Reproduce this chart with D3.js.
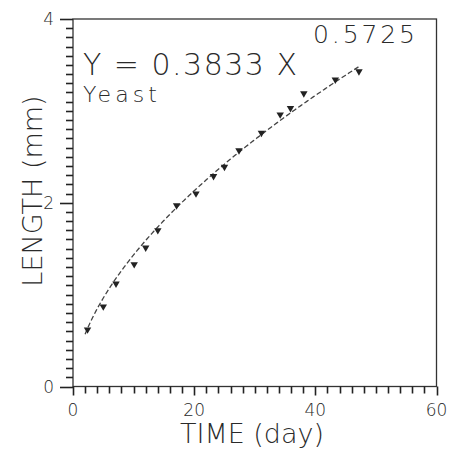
<!DOCTYPE html>
<html>
<head>
<meta charset="utf-8">
<script src="https://cdn.jsdelivr.net/npm/d3@7"></script>
<style>
  body { margin: 0; background: #fff; }
  svg text { font-family: "DejaVu Sans", sans-serif; font-weight: 200; fill: #2a2a2a; }
  line.tick { stroke: #222; stroke-width: 1.6px; }
</style>
</head>
<body>
<div id="chart"></div>
<script>
// measured points (days, mm)
var days = [2.4, 5.0, 7.1, 10.1, 12.0, 14.0, 17.1, 20.3, 23.2, 25.0, 27.4, 31.1, 34.2, 35.9, 38.1, 43.3, 47.2];
var lengths = [0.62, 0.87, 1.12, 1.33, 1.51, 1.70, 1.97, 2.10, 2.29, 2.39, 2.57, 2.76, 2.96, 3.03, 3.19, 3.34, 3.43];

// power fit printed on the chart: Y = a X^b
var fit_a = 0.3833;
var fit_b = 0.5725;
var fit_from = 2, fit_to = 47.2;

var x_major = [0, 20, 40, 60];
var y_major = [0, 2, 4];
var x_minor_step = 2;
var y_minor_step = 0.1;

var settings = {
  width: 449,
  height: 456,
  left: 73,
  right: 436.5,
  top: 19,
  bottom: 386.5,
  minor_tick: 7,
  major_tick: 9,
  line_color: '#333'
};

var svg = d3.select('#chart').append('svg')
  .attr('width', settings.width)
  .attr('height', settings.height);

var x = d3.scaleLinear().domain([0, 60]).range([settings.left, settings.right]);
var y = d3.scaleLinear().domain([0, 4]).range([settings.bottom, settings.top]);

// frame
svg.append('rect')
  .attr('x', settings.left)
  .attr('y', settings.top)
  .attr('width', settings.right - settings.left)
  .attr('height', settings.bottom - settings.top)
  .style('fill', 'none')
  .style('stroke', settings.line_color)
  .style('stroke-width', 1.3);

// ticks
var x_ticks = d3.range(0, 60 + 0.01, x_minor_step);
var y_ticks = d3.range(0, 41).map(function(d) { return d * y_minor_step; });

svg.append('g').selectAll('line')
  .data(x_ticks)
  .enter().append('line')
  .attr('class', 'tick')
  .attr('x1', function(d) { return Math.round(x(d)) + 0.5; })
  .attr('x2', function(d) { return Math.round(x(d)) + 0.5; })
  .attr('y1', settings.bottom)
  .attr('y2', function(d) { return settings.bottom + (x_major.indexOf(d) >= 0 ? settings.major_tick : settings.minor_tick); });

svg.append('g').selectAll('line')
  .data(y_ticks)
  .enter().append('line')
  .attr('class', 'tick')
  .attr('y1', function(d) { return Math.round(y(d)) + 0.5; })
  .attr('y2', function(d) { return Math.round(y(d)) + 0.5; })
  .attr('x1', settings.left)
  .attr('x2', function(d) {
    var major = y_major.some(function(m) { return Math.abs(m - d) < 1e-6; });
    return settings.left - (major ? settings.major_tick + 4 : settings.minor_tick);
  });

// tick labels
svg.append('g').selectAll('text')
  .data(x_major)
  .enter().append('text')
  .attr('x', function(d) { return x(d); })
  .attr('y', settings.bottom + 29)
  .style('text-anchor', 'middle')
  .style('font-size', '17px')
  .text(d3.format('d'));

svg.append('g').selectAll('text')
  .data(y_major)
  .enter().append('text')
  .attr('x', settings.left - 19)
  .attr('y', function(d) { return y(d) + 6; })
  .style('text-anchor', 'end')
  .style('font-size', '17px')
  .text(d3.format('d'));

// fitted curve
var fit_pts = d3.range(fit_from, fit_to + 0.01, 0.2).map(function(d) {
  return [d, fit_a * Math.pow(d, fit_b)];
});
svg.append('path')
  .datum(fit_pts)
  .attr('d', d3.line().x(function(d) { return x(d[0]); }).y(function(d) { return y(d[1]); }))
  .style('fill', 'none')
  .style('stroke', '#444')
  .style('stroke-width', 1.3)
  .style('stroke-dasharray', '5,2.5');

// points
svg.selectAll('path.pt')
  .data(days)
  .enter().append('path')
  .attr('class', 'pt')
  .attr('d', d3.symbol().type(d3.symbolTriangle).size(24))
  .attr('transform', function(d, i) { return 'translate(' + x(d) + ',' + y(lengths[i]) + ') rotate(180)'; })
  .style('fill', '#222');

// equation text
svg.append('text')
  .attr('x', 83).attr('y', 75)
  .attr('textLength', 214)
  .attr('lengthAdjust', 'spacing')
  .style('font-size', '30px')
  .text('Y = 0.3833 X');
svg.append('text')
  .attr('x', 313).attr('y', 43)
  .attr('textLength', 102)
  .attr('lengthAdjust', 'spacing')
  .style('font-size', '25px')
  .text('0.5725');
svg.append('text')
  .attr('x', 83).attr('y', 102)
  .attr('textLength', 74)
  .attr('lengthAdjust', 'spacing')
  .style('font-size', '22px')
  .text('Yeast');

// axis titles
svg.append('text')
  .attr('x', 252).attr('y', 443)
  .style('text-anchor', 'middle')
  .style('font-size', '27px')
  .text('TIME (day)');
svg.append('text')
  .attr('transform', 'translate(42,191) rotate(-90)')
  .style('text-anchor', 'middle')
  .style('font-size', '27px')
  .text('LENGTH (mm)');
</script>
</body>
</html>
